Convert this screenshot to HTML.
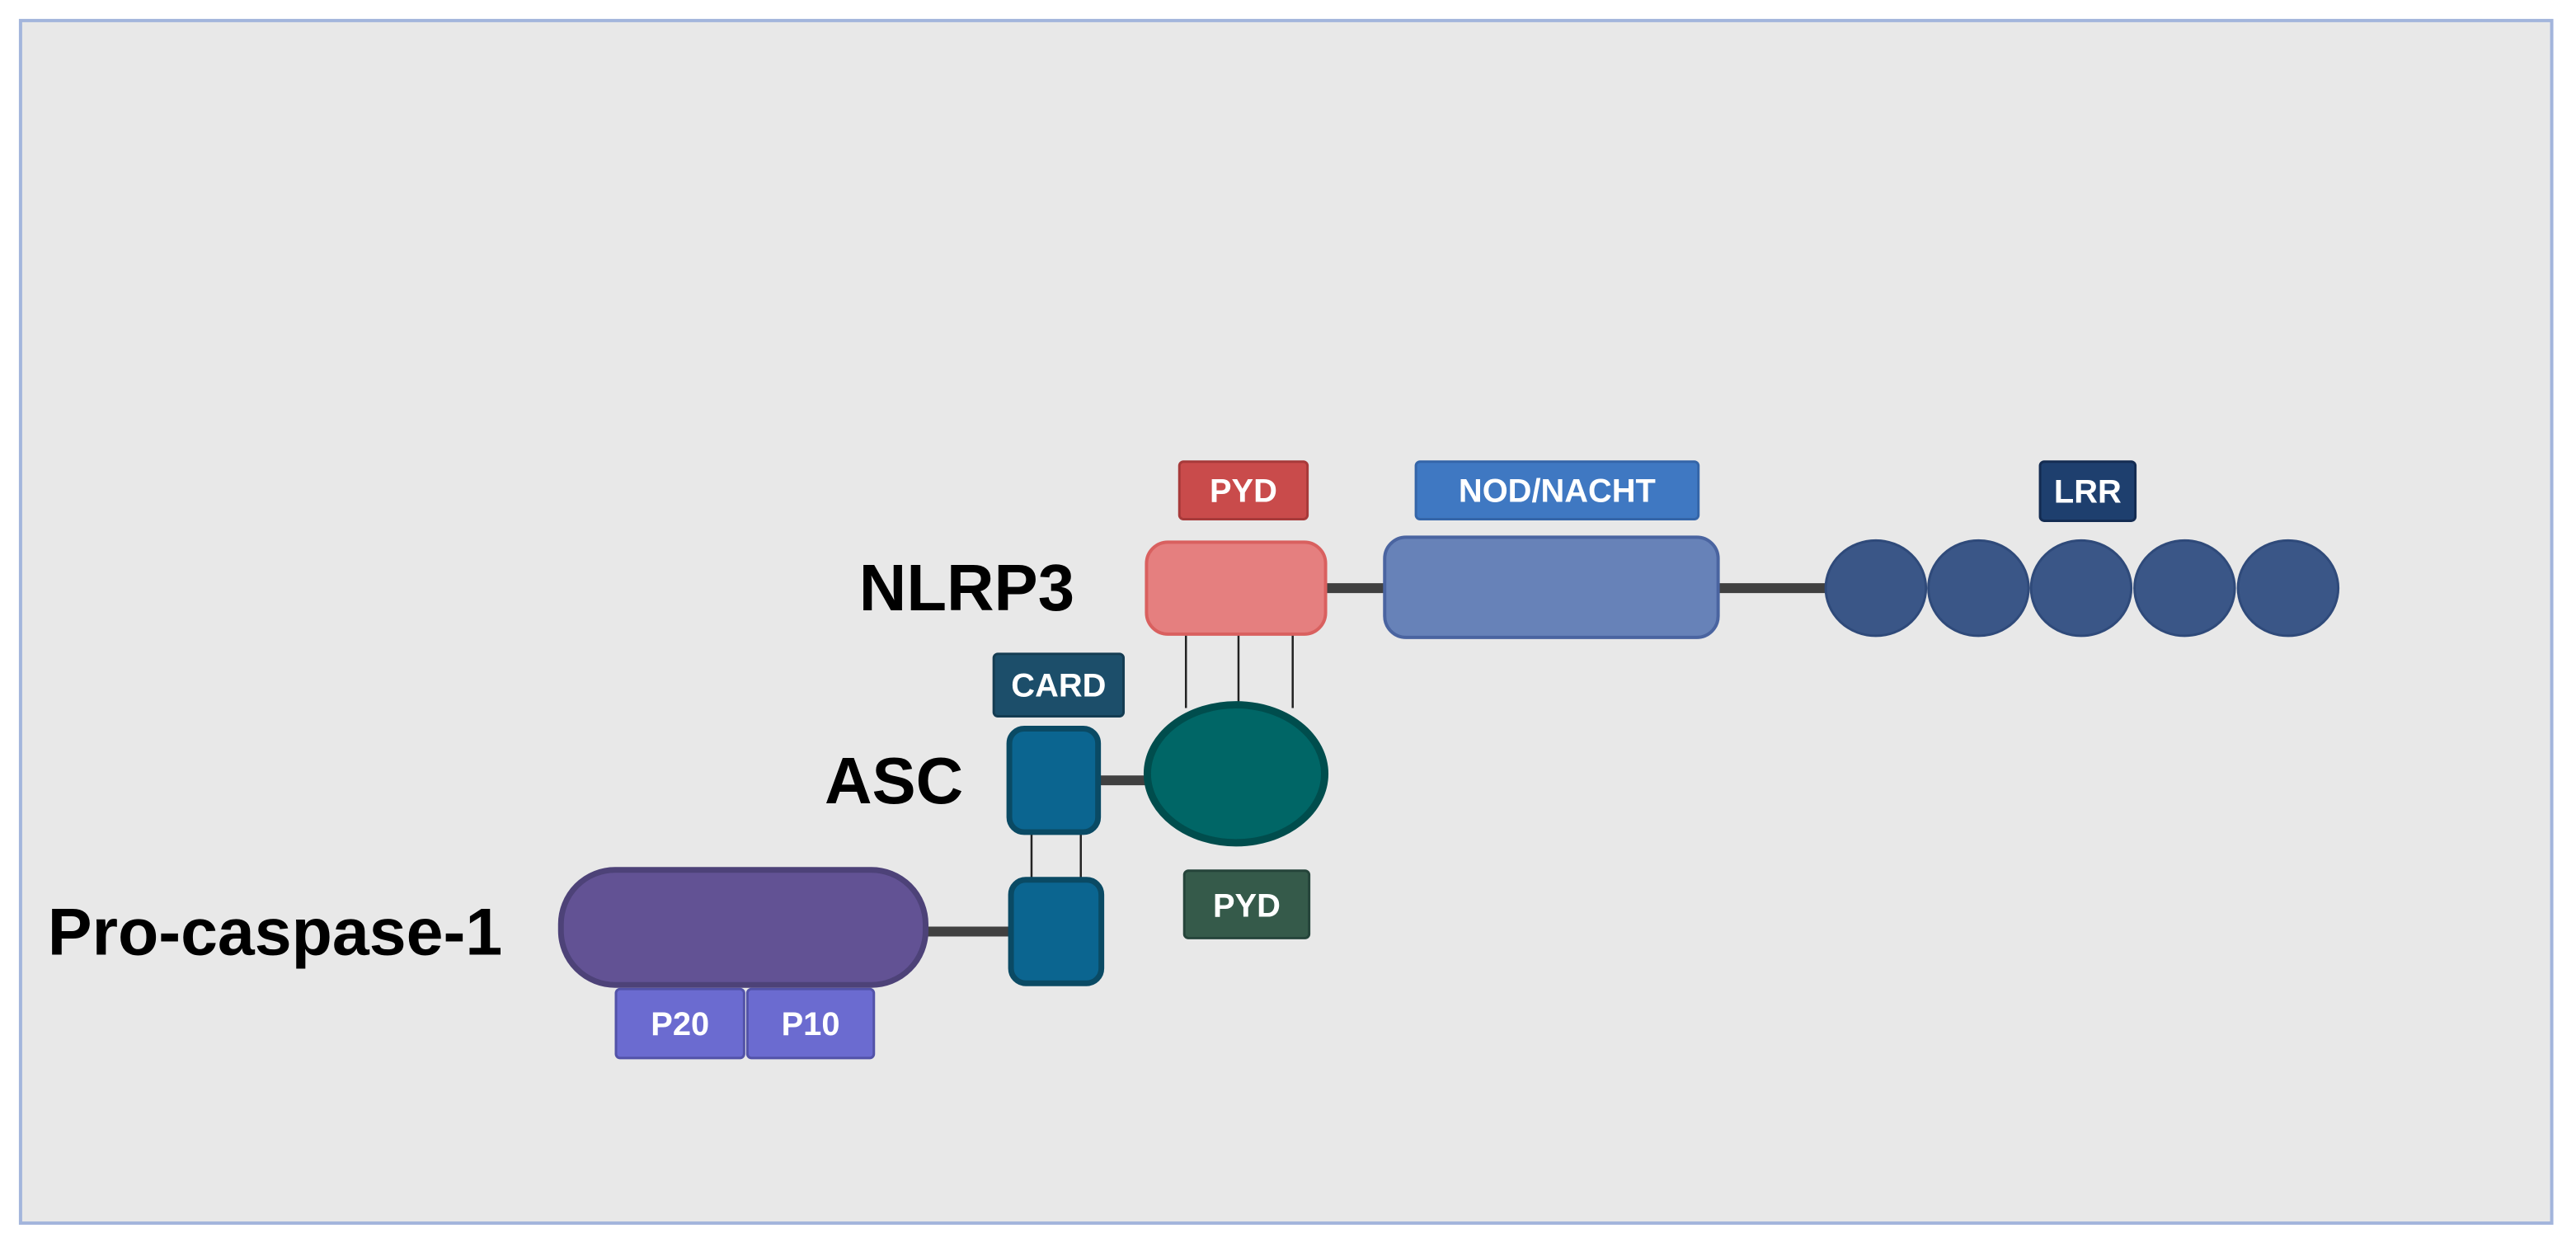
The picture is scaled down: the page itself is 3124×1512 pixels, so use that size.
<!DOCTYPE html>
<html><head><meta charset="utf-8"><style>
html,body{margin:0;padding:0;background:#fff;}
svg{display:block;}
text{font-family:"Liberation Sans",sans-serif;font-weight:bold;}
</style></head><body>
<svg width="3124" height="1512" viewBox="0 0 3124 1512" xmlns="http://www.w3.org/2000/svg">
<g transform="scale(0.996)">
<rect x="25" y="25" width="3082" height="1464" fill="#e8e8e8" stroke="#a3b5dc" stroke-width="4"/>
<g stroke="#404040" stroke-width="12">
<line x1="1612" y1="716" x2="1690" y2="716"/>
<line x1="2090" y1="716" x2="2226" y2="716"/>
<line x1="1336" y1="950" x2="1398" y2="950"/>
<line x1="1124" y1="1134" x2="1232" y2="1134"/>
</g>
<g stroke="#222" stroke-width="2.5">
<line x1="1444" y1="770" x2="1444" y2="862"/>
<line x1="1508" y1="770" x2="1508" y2="862"/>
<line x1="1574" y1="770" x2="1574" y2="862"/>
<line x1="1256" y1="1014" x2="1256" y2="1072"/>
<line x1="1316" y1="1014" x2="1316" y2="1072"/>
</g>
<text x="1046" y="743" font-size="80">NLRP3</text>
<rect x="1436" y="562" width="156" height="70" rx="5" fill="#c94b4b" stroke="#a73a3a" stroke-width="3"/>
<text x="1514" y="611" font-size="40" fill="#fff" text-anchor="middle">PYD</text>
<rect x="1724" y="562" width="344" height="70" rx="5" fill="#3f78c2" stroke="#3465a8" stroke-width="3"/>
<text x="1896" y="611" font-size="40" fill="#fff" text-anchor="middle">NOD/NACHT</text>
<rect x="2484" y="562" width="116" height="72" rx="5" fill="#1e3f6e" stroke="#142c52" stroke-width="3"/>
<text x="2542" y="612" font-size="40" fill="#fff" text-anchor="middle">LRR</text>
<rect x="1396" y="660" width="218" height="112" rx="26" fill="#e57f7f" stroke="#d9605f" stroke-width="4"/>
<rect x="1686" y="654" width="406" height="122" rx="26" fill="#6782b8" stroke="#4a64a0" stroke-width="4"/>
<g fill="#3a5687" stroke="#2f4a7a" stroke-width="3">
<ellipse cx="2284" cy="716" rx="61" ry="58"/>
<ellipse cx="2409" cy="716" rx="61" ry="58"/>
<ellipse cx="2534" cy="716" rx="61" ry="58"/>
<ellipse cx="2660" cy="716" rx="61" ry="58"/>
<ellipse cx="2786" cy="716" rx="61" ry="58"/>
</g>
<rect x="1210" y="796" width="158" height="76" rx="5" fill="#1c4e6a" stroke="#143c52" stroke-width="3"/>
<text x="1289" y="848" font-size="40" fill="#fff" text-anchor="middle">CARD</text>
<text x="1004" y="978" font-size="80">ASC</text>
<rect x="1229" y="887" width="108" height="126" rx="18" fill="#0b6590" stroke="#0a4a64" stroke-width="7"/>
<ellipse cx="1505" cy="942" rx="108" ry="84" fill="#006666" stroke="#004d4d" stroke-width="9"/>
<rect x="1231" y="1071" width="110" height="126" rx="18" fill="#0b6590" stroke="#0a4a64" stroke-width="7"/>
<rect x="1442" y="1060" width="152" height="82" rx="5" fill="#355a4a" stroke="#25443a" stroke-width="3"/>
<text x="1518" y="1116" font-size="40" fill="#fff" text-anchor="middle">PYD</text>
<text x="58" y="1162" font-size="81">Pro-caspase-1</text>
<rect x="683" y="1059" width="444" height="140" rx="66" fill="#625294" stroke="#4d4278" stroke-width="7"/>
<rect x="750" y="1204" width="156" height="84" rx="5" fill="#6b6bd0" stroke="#5252a8" stroke-width="3"/>
<text x="828" y="1260" font-size="40" fill="#fff" text-anchor="middle">P20</text>
<rect x="910" y="1204" width="154" height="84" rx="5" fill="#6b6bd0" stroke="#5252a8" stroke-width="3"/>
<text x="987" y="1260" font-size="40" fill="#fff" text-anchor="middle">P10</text>
</g>
</svg>
</body></html>
